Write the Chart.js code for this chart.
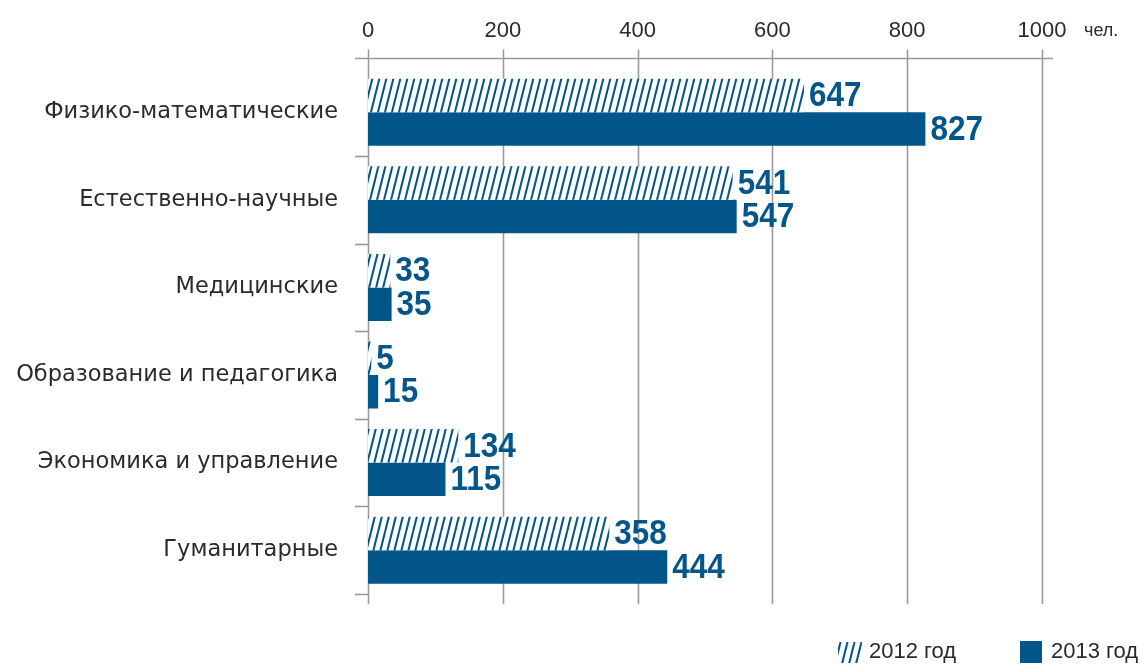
<!DOCTYPE html>
<html>
<head>
<meta charset="utf-8">
<script src="https://cdn.jsdelivr.net/npm/chart.js@4.4.1/dist/chart.umd.min.js"></script>
<style>
  html, body { margin:0; padding:0; background:#fff; }
  canvas { display:block; }
</style>
</head>
<body>
<canvas id="c" width="1144" height="664"></canvas>
<script>
// Направления подготовки — численность, чел.
const categories = ['Физико-математические', 'Естественно-научные', 'Медицинские',
  'Образование и педагогика', 'Экономика и управление', 'Гуманитарные'];
const values2012 = [647, 541, 33, 5, 134, 358];
const values2013 = [827, 547, 35, 15, 115, 444];
const xTicks = [0, 200, 400, 600, 800, 1000];
const seriesNames = ['2012 год', '2013 год'];
const unitLabel = 'чел.';

const BLUE = '#02568a';
const GRID = '#9b9b9b';
const TEXT = '#2b2b2b';

// hatch pattern for 2012 bars
function mkHatch(){
  const p = document.createElement('canvas');
  p.width = 7; p.height = 28;
  const g = p.getContext('2d');
  g.fillStyle = '#fff'; g.fillRect(0, 0, 7, 28);
  g.strokeStyle = BLUE; g.lineWidth = 2.1;
  [-7, 0, 7].forEach(dx => { g.beginPath(); g.moveTo(dx, 28); g.lineTo(dx + 7, 0); g.stroke(); });
  return g.createPattern(p, 'repeat');
}
const HATCH = mkHatch();

// axis lines, gridlines, ticks (drawn under the bars)
const gridPlugin = {
  id: 'gridPlugin',
  beforeDatasetsDraw(chart){
    const ctx = chart.ctx, xs = chart.scales.x, ys = chart.scales.y;
    const top = 58.5, area = chart.chartArea;
    ctx.save();
    ctx.strokeStyle = GRID; ctx.lineWidth = 1.6;
    xTicks.forEach(v => {
      const x = Math.round(xs.getPixelForValue(v)) + 0.5;
      ctx.beginPath(); ctx.moveTo(x, top - 9); ctx.lineTo(x, area.bottom + 10); ctx.stroke();
    });
    ctx.beginPath(); ctx.moveTo(area.left - 13, top); ctx.lineTo(area.right + 11, top); ctx.stroke();
    categories.forEach((c, i) => {
      const y = Math.round(ys.getPixelForValue(i + 0.5)) + 0.5;
      ctx.beginPath(); ctx.moveTo(area.left - 13, y); ctx.lineTo(area.left, y); ctx.stroke();
    });
    // top tick labels
    ctx.fillStyle = TEXT;
    ctx.font = '22px "Liberation Sans", Arial, sans-serif';
    ctx.textAlign = 'center'; ctx.textBaseline = 'alphabetic';
    xTicks.forEach(v => ctx.fillText(String(v), xs.getPixelForValue(v), 37));
    ctx.font = '18px "Liberation Sans", Arial, sans-serif';
    ctx.textAlign = 'left';
    ctx.fillText(unitLabel, 1084, 36);
    ctx.restore();
  }
};

// value labels and legend
const labelPlugin = {
  id: 'labelPlugin',
  afterDatasetsDraw(chart){
    const ctx = chart.ctx;
    chart.data.datasets.forEach((ds, di) => {
      chart.getDatasetMeta(di).data.forEach((bar, i) => {
        ctx.save();
        ctx.translate(bar.x + 5, bar.y + 1);
        ctx.scale(0.9, 1);
        ctx.font = 'bold 35px "Liberation Sans", Arial, sans-serif';
        ctx.fillStyle = BLUE;
        ctx.textBaseline = 'middle';
        ctx.fillText(String(ds.data[i]), 0, 0);
        ctx.restore();
      });
    });

    // legend
    ctx.save();
    ctx.fillStyle = HATCH;
    ctx.fillRect(838, 641, 24, 22);
    ctx.fillStyle = '#fff';
    ctx.fillRect(838, 641, 24, 1);
    ctx.fillStyle = BLUE;
    ctx.fillRect(1020, 641, 22, 22);
    ctx.fillStyle = TEXT;
    ctx.font = '22px "Liberation Sans", Arial, sans-serif';
    ctx.textBaseline = 'middle';
    ctx.fillText(seriesNames[0], 869, 652);
    ctx.fillText(seriesNames[1], 1051, 652);
    ctx.restore();
  }
};

new Chart(document.getElementById('c'), {
  type: 'bar',
  data: {
    labels: categories,
    datasets: [
      { label: seriesNames[0], data: values2012, backgroundColor: HATCH, borderWidth: 0 },
      { label: seriesNames[1], data: values2013, backgroundColor: BLUE, borderWidth: 0 }
    ]
  },
  options: {
    responsive: false,
    animation: false,
    indexAxis: 'y',
    layout: { padding: { left: 0, right: 102, top: 0, bottom: 70 } },
    datasets: { bar: { barPercentage: 1, categoryPercentage: 0.765 } },
    plugins: { legend: { display: false }, tooltip: { enabled: false } },
    scales: {
      x: {
        position: 'top', min: 0, max: 1000,
        ticks: { display: false, stepSize: 200 },
        grid: { display: false }, border: { display: false },
        afterFit: s => { s.height = 68.4; }
      },
      y: {
        grid: { display: false, drawTicks: false }, border: { display: false },
        ticks: { autoSkip: false, padding: 30, color: TEXT,
          font: { family: '"DejaVu Sans", "Liberation Sans", sans-serif', size: 22.5 } },
        afterFit: s => { s.width = 368; }
      }
    }
  },
  plugins: [gridPlugin, labelPlugin]
});
</script>
</body>
</html>
